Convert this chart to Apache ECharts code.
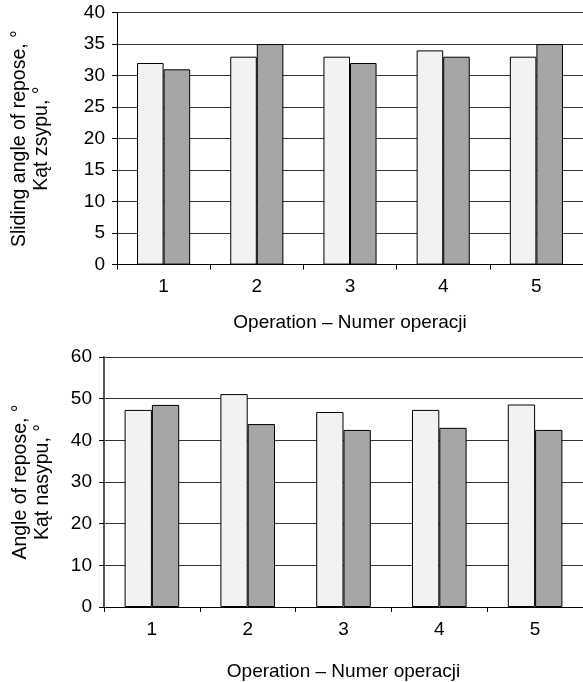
<!DOCTYPE html>
<html><head><meta charset="utf-8">
<script src="https://cdn.jsdelivr.net/npm/echarts@6/dist/echarts.min.js"></script>
<style>html,body{margin:0;padding:0;background:#fff}#c{width:583px;height:682px}</style>
</head><body><div id="c"></div>
<script>
const categories = ['1','2','3','4','5'];
const slidingLight = [32, 33, 33, 34, 33];
const slidingDark = [31, 35, 32, 33, 35];
const reposeLight = [47.3, 51.1, 46.8, 47.3, 48.6];
const reposeDark = [48.5, 43.9, 42.5, 43.0, 42.5];
const xName = 'Operation \u2013 Numer operacji';
const yNameTop = 'Sliding angle of repose, \u00b0\nK\u0105t zsypu, \u00b0';
const yNameBottom = 'Angle of repose, \u00b0\nK\u0105t nasypu, \u00b0';

const FONT = 'Liberation Sans, Arial, sans-serif';
const chart = echarts.init(document.getElementById('c'), null, {renderer:'canvas'});
const lightColor = '#f2f2f2', darkColor = '#a6a6a6';
function xAxis(gi, nameGap){
  return {type:'category', gridIndex:gi, data:categories, name:xName, nameLocation:'middle', nameGap:nameGap,
    nameTextStyle:{fontFamily:FONT, fontSize:19, color:'#000'},
    axisLine:{lineStyle:{color:'#000', width:1}},
    axisTick:{show:true, length:5, inside:false, lineStyle:{color:'#000'}},
    axisLabel:{fontFamily:FONT, fontSize:19, color:'#000', margin:13},
    splitLine:{show:false}};
}
function yAxis(gi, max, interval, name, nameGap, axisColor, axisWidth){
  return {type:'value', gridIndex:gi, min:0, max:max, interval:interval, name:name, nameLocation:'middle', nameGap:nameGap,
    nameTextStyle:{fontFamily:FONT, fontSize:19.5, color:'#000', lineHeight:22},
    axisLine:{show:true, lineStyle:{color:axisColor, width:axisWidth}},
    axisTick:{show:true, length:5, lineStyle:{color:'#000'}},
    axisLabel:{fontFamily:FONT, fontSize:19, color:'#000', margin:12},
    splitLine:{show:true, lineStyle:{color:'#333', width:1}}};
}
function bar(xi, data, color){
  return {type:'bar', xAxisIndex:xi, yAxisIndex:xi, data:data, barGap:'0%', barCategoryGap:'43%',
    itemStyle:{color:color, borderColor:'#000', borderWidth:1}, silent:true, animation:false};
}
chart.setOption({
  animation:false,
  grid:[
    {left:117, top:12.6, width:466.7, height:252},
    {left:104, top:357, width:488.5, height:252}
  ],
  xAxis:[xAxis(0, 49), xAxis(1, 55)],
  yAxis:[yAxis(0, 40, 5, yNameTop, 64, '#000', 1), yAxis(1, 60, 10, yNameBottom, 50, '#555', 2)],
  series:[
    bar(0, slidingLight, lightColor), bar(0, slidingDark, darkColor),
    bar(1, reposeLight, lightColor), bar(1, reposeDark, darkColor)
  ]
});
</script></body></html>
